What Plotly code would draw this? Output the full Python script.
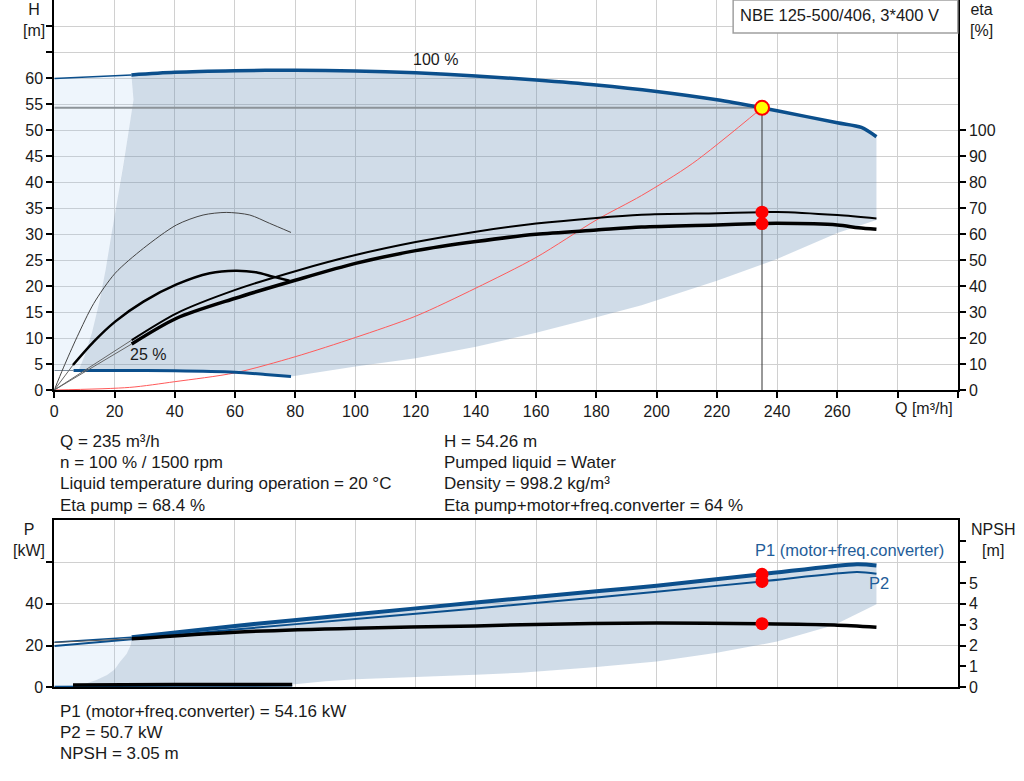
import plotly.graph_objects as go

W, H = 1024, 781      # size of the picture we are matching
FIG_H = 790           # the page window is a little taller than the picture

# ---- pump curve data ----
# head at 100 % speed
q_h100 = [0, 25.6, 40, 60, 80, 100, 120, 140, 160, 180, 200, 220, 235, 240, 260, 268, 273]
h_h100 = [59.9, 60.6, 61.1, 61.4, 61.5, 61.35, 61.0, 60.4, 59.6, 58.65, 57.4, 55.8, 54.26, 53.7, 51.4, 50.5, 48.7]

# head at 25 % speed
q_h25 = [6.4, 20, 40, 60, 70, 78.6]
h_h25 = [3.75, 3.75, 3.68, 3.4, 3.0, 2.6]

# system curve
q_sys = [0, 25, 40, 60, 80, 100, 120, 140, 160, 180, 195, 212, 235]
h_sys = [0, 0.5, 1.6, 3.3, 6.4, 10.1, 14.2, 19.6, 25.5, 32.7, 37.4, 43.6, 54.26]

# efficiency, 100 % speed
q_eta_p = [25.7, 40.6, 60.1, 80.3, 100, 120, 140, 160, 180, 195, 220, 235, 240, 260, 273]
eta_p = [19.2, 29.5, 38.5, 45.8, 51.9, 56.9, 60.9, 64.0, 66.2, 67.4, 68.0, 68.4, 68.5, 67.3, 66.0]
q_eta_t = [25.7, 40.6, 60.1, 80.3, 100, 120, 140, 160, 180, 195, 220, 235, 240, 260, 267, 273]
eta_t = [17.7, 27.6, 35.3, 42.3, 48.7, 53.6, 57.1, 59.9, 61.5, 62.7, 63.5, 64.0, 64.1, 63.5, 62.4, 61.8]

# efficiency, 25 % speed
q_eta_p25 = [0, 3, 7.6, 13.1, 20.2, 29.6, 40.6, 49.4, 57.1, 64.9, 71.5, 78.6]
eta_p25 = [0, 8.5, 20.5, 33.3, 44.9, 54.5, 63.5, 67.3, 68.3, 67.3, 64.1, 60.6]
q_eta_t25 = [6.2, 13.1, 20.2, 29.6, 40.6, 51.6, 60.1, 67, 72.6, 78.1]
eta_t25 = [9.6, 18.6, 26.3, 34.0, 40.6, 44.9, 45.9, 45.3, 43.6, 42.0]

# operating range outline (head chart)
shade_low_q = [78.6, 82.5, 100, 120, 140, 160, 180, 195, 220, 240, 260, 273]
shade_low_h = [2.6, 2.9, 4.5, 6.1, 8.3, 11.0, 14.0, 16.3, 21.0, 25.2, 30.2, 32.7]
shade_left_q = [8, 10, 12.5, 15, 17, 19, 21, 22.8, 24.6, 26.3, 25.6]
shade_left_h = [3.7, 6.5, 11, 17, 23, 30, 36.5, 42.9, 49.4, 55.8, 60.6]

# power / NPSH
q_p1 = [0, 25.7, 60, 100, 140, 180, 200, 235, 266.5, 273]
p1 = [21.6, 24.0, 29.4, 35.0, 40.6, 46.0, 48.7, 54.16, 59.0, 58.4]
q_p2 = [0, 25.7, 60, 100, 140, 180, 200, 235, 266.5, 273]
p2 = [19.8, 23.0, 27.7, 32.7, 37.8, 43.0, 45.8, 50.7, 55.2, 54.4]
q_npsh = [0, 25.7, 60, 100, 140, 155, 200, 235, 259, 273]
npsh = [2.15, 2.32, 2.64, 2.83, 2.94, 3.0, 3.08, 3.05, 2.99, 2.88]
q_p25 = [0, 40, 79]
p25 = [0.4, 0.6, 0.7]
q_npsh25 = [6.2, 40, 79]
npsh25 = [0.11, 0.14, 0.13]

pshade_low_q = [79, 90, 100, 120, 140, 155, 180, 200, 220, 240, 259, 273]
pshade_low_p = [1.3, 2.9, 3.8, 5.0, 6.0, 7.0, 9.7, 12.3, 16.5, 21.9, 29.9, 39.8]
pshade_left_q = [7, 10.8, 14, 17.5, 20, 21.9, 24, 25.4, 25.7]
pshade_left_p = [0.5, 1.9, 3.5, 5.9, 8.5, 12.3, 16, 20.3, 24.0]

q_op = 235
h_op = 54.26
eta_op = [68.4, 64.0]
p_op = [54.16, 50.7]
npsh_op = 3.05

x_ticks = list(range(0, 301, 20))
x_labels = [str(v) if v <= 260 else "" for v in x_ticks]
h_ticks = list(range(0, 71, 5))
h_labels = [str(v) if v <= 60 else "" for v in h_ticks]
eta_ticks = list(range(0, 101, 10))
p_ticks = [0, 20, 40, 60]
p_labels = ["0", "20", "40", ""]
npsh_ticks = list(range(0, 8))
npsh_labels = [str(v) if v <= 5 else "" for v in npsh_ticks]

info_left = ["Q = 235 m³/h", "n = 100 % / 1500 rpm",
             "Liquid temperature during operation = 20 °C", "Eta pump = 68.4 %"]
info_right = ["H = 54.26 m", "Pumped liquid = Water", "Density = 998.2 kg/m³",
              "Eta pump+motor+freq.converter = 64 %"]
info_bottom = ["P1 (motor+freq.converter) = 54.16 kW", "P2 = 50.7 kW", "NPSH = 3.05 m"]

BLUE = "#0b4f8c"
SHADE = "rgba(100,140,180,0.30)"
LIGHT = "rgba(160,200,240,0.18)"
FONT = "Liberation Sans, Arial, sans-serif"


def fx(px):
    return px / W


def fy(py):
    return 1 - py / H


fig = go.Figure()


def line(x, y, color, width, xa="x", ya="y", smooth=True):
    fig.add_trace(go.Scatter(x=x, y=y, mode="lines", xaxis=xa, yaxis=ya,
                             line=dict(color=color, width=width,
                                       shape="spline" if smooth else "linear",
                                       smoothing=0.8),
                             hoverinfo="skip"))


def area(x, y, color, xa="x", ya="y"):
    fig.add_trace(go.Scatter(x=x, y=y, mode="lines", fill="toself", fillcolor=color,
                             line=dict(width=0), xaxis=xa, yaxis=ya, hoverinfo="skip"))


# head chart shading
area([0, 0, q_h100[1]] + shade_left_q[::-1],
     [h_h25[0], h_h100[0], h_h100[1]] + shade_left_h[::-1], LIGHT)
area(q_h100[1:] + shade_low_q[::-1] + q_h25[:0:-1] + shade_left_q,
     h_h100[1:] + shade_low_h[::-1] + h_h25[:0:-1] + shade_left_h, SHADE)

# head chart lines
line([0, q_op], [h_op, h_op], "#8c9399", 2, smooth=False)
line([q_op, q_op], [0, h_op], "#333333", 1, smooth=False)
line(q_sys, h_sys, "#ff5a5a", 1)
line([0, q_h25[0]], [h_h25[0], h_h25[0]], "#7a8a9a", 1, smooth=False)
line(q_h25, h_h25, BLUE, 3)
line(q_h100[:2], h_h100[:2], BLUE, 1.5, smooth=False)
line(q_h100[1:], h_h100[1:], BLUE, 3.5)

line([0, q_eta_p[0]], [0, eta_p[0]], "#666666", 1, ya="y2", smooth=False)
line([0, q_eta_t[0]], [0, eta_t[0]], "#666666", 1, ya="y2", smooth=False)
line([0, q_eta_t25[0]], [0, eta_t25[0]], "#666666", 1, ya="y2", smooth=False)
line(q_eta_p25, eta_p25, "#444444", 1, ya="y2")
line(q_eta_t25, eta_t25, "black", 2.5, ya="y2")
line(q_eta_p, eta_p, "black", 2, ya="y2")
line(q_eta_t, eta_t, "black", 3.5, ya="y2")

fig.add_trace(go.Scatter(x=[q_op] * 2, y=eta_op, mode="markers", yaxis="y2",
                         marker=dict(color="#ff0000", size=13), hoverinfo="skip"))
fig.add_trace(go.Scatter(x=[q_op], y=[h_op], mode="markers",
                         marker=dict(color="#ffff00", size=14, line=dict(color="#ff0000", width=2)),
                         hoverinfo="skip"))

# power chart shading
area([0, 0, q_p2[1]] + pshade_left_q[::-1],
     [p25[0], p2[0], p2[1]] + pshade_left_p[::-1], LIGHT, "x2", "y3")
area(q_p1[1:] + pshade_low_q[::-1] + [40] + pshade_left_q,
     p1[1:] + pshade_low_p[::-1] + [0.8] + pshade_left_p, SHADE, "x2", "y3")

line(q_p25, p25, BLUE, 1.5, "x2", "y3")
line(q_npsh25, npsh25, "black", 3.5, "x2", "y4")
line(q_p2, p2, BLUE, 2, "x2", "y3")
line(q_npsh[:2], npsh[:2], "#555555", 1, "x2", "y4", smooth=False)
line(q_p1[:2], p1[:2], BLUE, 1.5, "x2", "y3", smooth=False)
line(q_p1[1:], p1[1:], BLUE, 4, "x2", "y3")
line(q_npsh[1:], npsh[1:], "black", 3.5, "x2", "y4")

fig.add_trace(go.Scatter(x=[q_op] * 2, y=p_op, mode="markers", xaxis="x2", yaxis="y3",
                         marker=dict(color="#ff0000", size=13), hoverinfo="skip"))
fig.add_trace(go.Scatter(x=[q_op], y=[npsh_op], mode="markers", xaxis="x2", yaxis="y4",
                         marker=dict(color="#ff0000", size=13), hoverinfo="skip"))

dom_x = [fx(50.5), fx(957.5)]
tick_font = dict(family=FONT, size=16, color="#1a1a1a")
ax_common = dict(showline=True, linecolor="black", linewidth=2, ticks="outside",
                 ticklen=6, tickwidth=1.5, tickcolor="black", tickfont=tick_font,
                 zeroline=False, fixedrange=True)
grid = dict(showgrid=True, gridcolor="#d0d0d0", gridwidth=1)

annotations = []


def text(px, py, s, size=17, color="#1a1a1a", xanchor="left"):
    annotations.append(dict(x=fx(px), y=fy(py), xref="paper", yref="paper", text=s,
                            showarrow=False, xanchor=xanchor, yanchor="middle",
                            font=dict(family=FONT, size=size, color=color)))


text(30, 20, "H<br>[m]", 16, xanchor="center")
text(981, 20, "eta<br>[%]", 16, xanchor="center")
text(25, 540, "P<br>[kW]", 16, xanchor="center")
text(993, 540, "NPSH<br>[m]", 16, xanchor="center")
text(924, 408, "Q [m³/h]", 16, xanchor="center")
text(433, 60, "100 %", 16, xanchor="center")
text(145, 354, "25 %", 16, xanchor="center")
text(737, 15, "NBE 125-500/406, 3*400 V", 16.5)
text(946, 550, "P1 (motor+freq.converter)", 16.5, "#1f5d99", "right")
text(866, 583, "P2", 16.5, "#1f5d99")
for i, s in enumerate(info_left):
    text(54, 441 + i * 21.4, s)
for i, s in enumerate(info_right):
    text(440, 441 + i * 21.4, s)
for i, s in enumerate(info_bottom):
    text(54, 711 + i * 21.4, s)

fig.update_layout(
    width=W, height=FIG_H,
    margin=dict(l=0, r=0, t=0, b=0),
    paper_bgcolor="white", plot_bgcolor="white",
    showlegend=False,
    font=dict(family=FONT, size=16, color="#1a1a1a"),
    xaxis=dict(domain=dom_x, range=[0, 300], anchor="y", tickvals=x_ticks,
               ticktext=x_labels, **ax_common, **grid),
    yaxis=dict(domain=[fy(390), 1], range=[0, 75], anchor="x", tickvals=h_ticks,
               ticktext=h_labels, **ax_common, **grid),
    yaxis2=dict(range=[0, 150], overlaying="y", side="right", anchor="x",
                tickvals=eta_ticks, showgrid=False, **ax_common),
    xaxis2=dict(domain=dom_x, range=[0, 300], anchor="y3", tickvals=x_ticks,
                showticklabels=False, showline=True, mirror=True, linecolor="black",
                linewidth=2, ticks="", zeroline=False, **grid),
    yaxis3=dict(domain=[fy(687.3), fy(520.3)], range=[0, 80], anchor="x2",
                tickvals=p_ticks, ticktext=p_labels, **ax_common, **grid),
    yaxis4=dict(range=[0, 8], overlaying="y3", side="right", anchor="x2",
                tickvals=npsh_ticks, ticktext=npsh_labels, showgrid=False, **ax_common),
    annotations=annotations,
    shapes=[dict(type="rect", xref="paper", yref="paper", x0=fx(732), x1=fx(957.5),
                 y0=fy(33), y1=fy(0), line=dict(color="#a0a0a0", width=1.5),
                 fillcolor="white", layer="above")],
)

# the page keeps its default body margin and scroll area; clear them so the
# figure fills the window exactly
page_css = ("document.documentElement.style.margin='0';"
            "document.documentElement.style.overflow='hidden';"
            "document.body.style.margin='0';"
            "document.body.style.overflow='hidden';"
            "document.body.style.height='%dpx';" % FIG_H)
fig.write_html("out.html", post_script=page_css, config={"displayModeBar": False})
